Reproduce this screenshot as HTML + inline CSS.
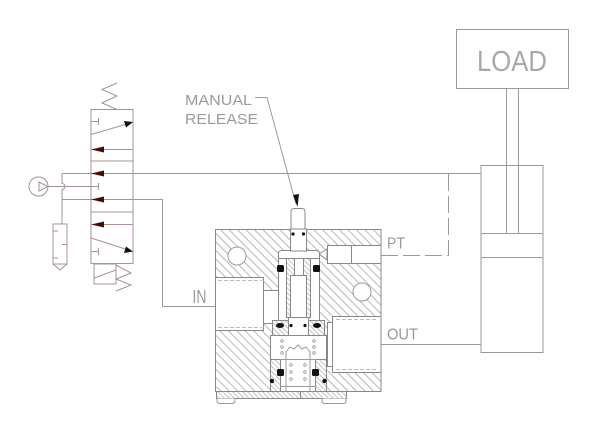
<!DOCTYPE html>
<html><head><meta charset="utf-8"><style>
html,body{margin:0;padding:0;background:#fff;}
svg{display:block;}
text{font-family:"Liberation Sans",sans-serif;fill:#9a9a9a;}
</style></head><body>
<svg width="600" height="434" viewBox="0 0 600 434" xmlns="http://www.w3.org/2000/svg">
<defs>
<pattern id="h" patternUnits="userSpaceOnUse" width="8" height="6" patternTransform="rotate(45)">
<rect width="8" height="6" fill="#fff"/>
<line x1="0" y1="0.5" x2="8" y2="0.5" stroke="#a8a8a8" stroke-width="0.8"/>
</pattern>
<pattern id="h2" patternUnits="userSpaceOnUse" width="6" height="3.5" patternTransform="rotate(45)">
<rect width="6" height="3.5" fill="#fff"/>
<line x1="0" y1="0.5" x2="6" y2="0.5" stroke="#a8a8a8" stroke-width="0.7"/>
</pattern>
</defs>

<!-- LOAD box -->
<rect x="456.5" y="29.5" width="112" height="59" fill="none" stroke="#9a9a9a"/>
<text x="477" y="71" font-size="29" textLength="70" lengthAdjust="spacingAndGlyphs" style="fill:#a8a8a8">LOAD</text>
<!-- rod -->
<line x1="506.5" y1="88" x2="506.5" y2="233" stroke="#9a9a9a"/>
<line x1="518.5" y1="88" x2="518.5" y2="233" stroke="#9a9a9a"/>
<!-- cylinder -->
<rect x="481" y="165.5" width="62" height="187" fill="none" stroke="#9a9a9a"/>
<line x1="481" y1="233.5" x2="543" y2="233.5" stroke="#9a9a9a"/>
<line x1="481" y1="257.5" x2="543" y2="257.5" stroke="#9a9a9a"/>

<!-- line to cylinder top -->
<line x1="62" y1="173.5" x2="481" y2="173.5" stroke="#9a9a9a"/>
<!-- dashed pilot -->
<path d="M381 255.5 H448.5 V174" fill="none" stroke="#9a9a9a" stroke-dasharray="17 5"/>
<!-- OUT line -->
<line x1="381" y1="344.5" x2="481" y2="344.5" stroke="#9a9a9a"/>
<!-- IN line -->
<path d="M133 199.5 H162.5 V306.5 H215" fill="none" stroke="#9a9a9a"/>

<!-- labels -->
<text x="185" y="105" font-size="15" textLength="67" lengthAdjust="spacingAndGlyphs">MANUAL</text>
<text x="185" y="124" font-size="15" textLength="73" lengthAdjust="spacingAndGlyphs">RELEASE</text>
<path d="M255 97.5 H267 L296 204" fill="none" stroke="#9a9a9a"/>
<polygon points="293,195 299,194 297.5,207" fill="#111"/>
<text x="192.5" y="303" font-size="18" textLength="14" lengthAdjust="spacingAndGlyphs">IN</text>
<text x="387" y="248.5" font-size="16" textLength="18" lengthAdjust="spacingAndGlyphs">PT</text>
<text x="387" y="339.5" font-size="16" textLength="31" lengthAdjust="spacingAndGlyphs">OUT</text>

<!-- knob -->
<rect x="291" y="208.5" width="14" height="22" rx="3" fill="#fff" stroke="#888"/>

<!-- block -->
<rect x="215.5" y="229.5" width="165.5" height="162" fill="url(#h)" stroke="#888"/>
<!-- base plate -->
<rect x="216.5" y="391.5" width="130" height="7" fill="url(#h2)" stroke="#888"/>
<line x1="300.5" y1="391.5" x2="300.5" y2="398.5" stroke="#888"/>
<path d="M217 398.5 V401 Q217 403.5 220 403.5 H232 Q235 403.5 235 401 V398.5" fill="#fff" stroke="#999"/>
<path d="M322 398.5 V401 Q322 403.5 325 403.5 H343 Q346 403.5 346 401 V398.5" fill="#fff" stroke="#999"/>

<!-- circles -->
<circle cx="237" cy="256" r="9" fill="#fff" stroke="#999"/>
<circle cx="362" cy="292" r="9" fill="#fff" stroke="#999"/>

<!-- IN port -->
<rect x="215.5" y="277.5" width="48" height="53" fill="#fff" stroke="#888"/>
<line x1="218" y1="280.5" x2="262" y2="280.5" stroke="#bbb" stroke-dasharray="4 2"/>
<line x1="218" y1="327.5" x2="262" y2="327.5" stroke="#bbb" stroke-dasharray="4 2"/>
<rect x="263.5" y="290.5" width="16" height="33" fill="#fff" stroke="#888"/>

<!-- OUT port -->
<rect x="327.5" y="322.5" width="6" height="44" fill="#fff" stroke="#888"/>
<rect x="332.5" y="316.5" width="48.5" height="56" fill="#fff" stroke="#888"/>
<line x1="336" y1="319.5" x2="378" y2="319.5" stroke="#bbb" stroke-dasharray="4 2"/>
<line x1="336" y1="369.5" x2="378" y2="369.5" stroke="#bbb" stroke-dasharray="4 2"/>

<!-- PT port -->
<polygon points="319,254 327,249 327,260" fill="#fff" stroke="#888"/>
<rect x="327.5" y="245.5" width="53.5" height="18" fill="#fff" stroke="#888"/>
<line x1="351.5" y1="245.5" x2="351.5" y2="263.5" stroke="#888"/>

<!-- central chamber -->
<rect x="278.5" y="250.5" width="41" height="80" rx="3" fill="#fff" stroke="#888"/>
<rect x="290.5" y="229" width="16" height="22" fill="#fff" stroke="#888"/>
<line x1="278.5" y1="258.5" x2="319.5" y2="258.5" stroke="#888"/>
<circle cx="293" cy="234" r="1.6" fill="#111"/>
<circle cx="303.5" cy="234" r="1.6" fill="#111"/>
<!-- sleeve -->
<rect x="286.5" y="258.5" width="24" height="59" fill="url(#h2)" stroke="#888"/>
<rect x="294.5" y="258.5" width="9" height="17" fill="#fff" stroke="#888"/>
<rect x="290.5" y="275.5" width="16" height="42" fill="#fff" stroke="#888"/>
<rect x="277" y="265" width="7" height="7" rx="1.5" fill="#111"/>
<rect x="313" y="265" width="7" height="7" rx="1.5" fill="#111"/>
<!-- lower piece -->
<rect x="272.5" y="320.5" width="52" height="15" fill="url(#h2)" stroke="#888"/>
<rect x="288.5" y="317.5" width="20" height="18" fill="#fff" stroke="#888"/>
<ellipse cx="280" cy="325.5" rx="4" ry="2.5" fill="#111"/>
<ellipse cx="317" cy="325.5" rx="4" ry="2.5" fill="#111"/>
<circle cx="291" cy="325.5" r="1.6" fill="#111"/>
<circle cx="305" cy="325.5" r="1.6" fill="#111"/>
<!-- lower chamber -->
<rect x="270.5" y="335.5" width="56" height="56" fill="#fff" stroke="#888"/>
<rect x="270.5" y="359.5" width="10" height="32" fill="url(#h2)" stroke="#888"/>
<rect x="315.5" y="359.5" width="11" height="32" fill="url(#h2)" stroke="#888"/>
<path d="M286 391 V352 L290 347 L294 349 L298 345 L302 349 L306 347 L310 352 V391" fill="none" stroke="#999"/>
<line x1="280" y1="359.5" x2="316" y2="359.5" stroke="#999"/>
<line x1="280" y1="386.5" x2="316" y2="386.5" stroke="#999"/>
<rect x="277" y="369" width="7" height="7" rx="1.5" fill="#111"/>
<rect x="312" y="369" width="7" height="7" rx="1.5" fill="#111"/>
<circle cx="272" cy="381" r="2.2" fill="#111"/>
<circle cx="324.5" cy="381" r="2.2" fill="#111"/>
<g fill="none" stroke="#999" stroke-width="0.8">
<circle cx="282" cy="341" r="1.3"/><circle cx="282" cy="347" r="1.3"/><circle cx="282" cy="353" r="1.3"/>
<circle cx="314" cy="341" r="1.3"/><circle cx="314" cy="347" r="1.3"/><circle cx="314" cy="353" r="1.3"/>
<circle cx="291" cy="365" r="1.3"/><circle cx="291" cy="372" r="1.3"/><circle cx="291" cy="379" r="1.3"/>
<circle cx="305" cy="365" r="1.3"/><circle cx="305" cy="372" r="1.3"/><circle cx="305" cy="379" r="1.3"/>
</g>

<!-- VALVE SYMBOL -->
<g stroke="#a89292" fill="none">
<polyline points="117,83 102,89.5 117,96 102,103 117,109.5"/>
<rect x="91" y="109.5" width="42" height="154"/>
<line x1="91" y1="161" x2="133" y2="161"/>
<line x1="91" y1="212" x2="133" y2="212"/>
<!-- top envelope -->
<line x1="91" y1="121.5" x2="98" y2="121.5"/><line x1="98.5" y1="118" x2="98.5" y2="125"/>
<line x1="91" y1="134.5" x2="127" y2="124"/>
<line x1="100" y1="149.5" x2="133" y2="149.5"/>
<!-- middle -->
<line x1="48" y1="186.5" x2="98" y2="186.5"/><line x1="98.5" y1="183" x2="98.5" y2="190"/>
<line x1="62" y1="199.5" x2="133" y2="199.5"/>
<!-- bottom -->
<line x1="100" y1="224.5" x2="133" y2="224.5"/>
<line x1="91" y1="238" x2="127" y2="249.5"/>
<line x1="91" y1="251.5" x2="98" y2="251.5"/><line x1="98.5" y1="248" x2="98.5" y2="255"/>
<!-- actuator -->
<rect x="94" y="264" width="22" height="20"/>
<line x1="94" y1="278" x2="116" y2="270"/>
<polyline points="116,265 131,273 116,279 131,285 116,291"/>
<!-- pump -->
<circle cx="38.5" cy="186.5" r="9.5"/>
<polygon points="39,182 47.5,186.5 39,191"/>
<!-- vertical with hop -->
<path d="M62 173.5 V183.5 a3 3 0 0 1 0 6 V224"/>
<!-- filter -->
<rect x="53" y="224" width="14" height="40"/>
<line x1="53" y1="231" x2="58" y2="231"/><line x1="62" y1="244.5" x2="67" y2="244.5"/><line x1="53" y1="258" x2="58" y2="258"/>
<polyline points="53,264 60,270 67,264"/>
</g>
<!-- arrowheads -->
<g fill="#4a0a0a">
<polygon points="91,149.5 104,146.5 104,152.5"/>
<polygon points="91,173.5 104,170.5 104,176.5"/>
<polygon points="91,199.5 104,196.5 104,202.5"/>
<polygon points="91,224.5 104,221.5 104,227.5"/>
</g>
<g fill="#111">
<polygon points="133,122 124,121 126,127.5"/>
<polygon points="133,251.5 126,246.5 124,253"/>
</g>
</svg>
</body></html>
